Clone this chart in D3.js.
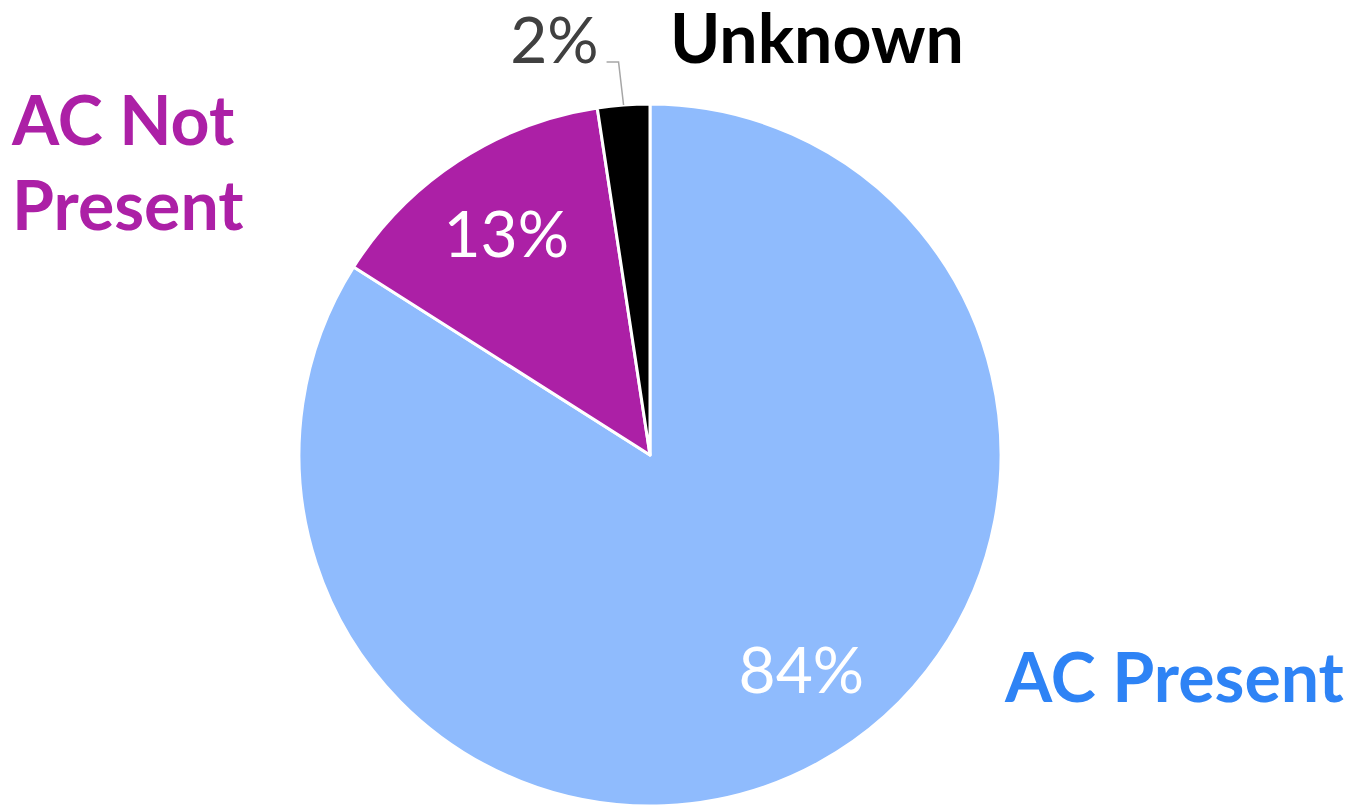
<!DOCTYPE html>
<meta charset="utf-8">
<style>
body { margin: 0; background: #fff; }
text { font-family: Lato, "Open Sans", sans-serif; }
.cat { font-weight: bold; }
</style>
<svg width="1349" height="805"></svg>
<script src="https://d3js.org/d3.v7.min.js"></script>
<script>
// data, clockwise from 12 o'clock
var categories = ["AC Present", "AC Not Present", "Unknown"];
var values = [84.0, 13.6, 2.4];
var pctLabels = ["84%", "13%", "2%"];

var colors = ["#8fbbfd", "#ac20a6", "#000000"];
var catColors = ["#2e83f5", "#ac20a6", "#000000"];
var pctColors = ["#ffffff", "#ffffff", "#404040"];

var svg = d3.select("svg"),
    cx = 650, cy = 455, R = 351;

var pie = d3.pie().sort(null).value(function(d) { return d; });
var arcs = pie(values);
var arc = d3.arc().innerRadius(0).outerRadius(R);

var g = svg.append("g").attr("transform", "translate(" + cx + "," + cy + ")");

g.selectAll(".slice")
    .data(arcs)
    .enter().append("path")
    .attr("class", "slice")
    .attr("d", arc)
    .attr("fill", function(d, i) { return colors[i]; })
    .attr("stroke", "#fff")
    .attr("stroke-width", 3)
    .attr("stroke-linejoin", "round");

function polar(r, a) { return [Math.sin(a) * r, -Math.cos(a) * r]; }

// inside labels for the two big slices
var inPos = [{r: 0.75, da: -0.11}, {r: 0.75, da: 0}];
inPos.forEach(function(o, i) {
  var d = arcs[i];
  var p = polar(R * o.r, (d.startAngle + d.endAngle) / 2 + o.da);
  g.append("text")
    .attr("x", p[0])
    .attr("y", p[1])
    .attr("dy", "0.35em")
    .attr("text-anchor", "middle")
    .attr("fill", pctColors[i])
    .style("font-size", "64px")
    .text(pctLabels[i]);
});

// leader line + outside label for the small slice
var u = arcs[2];
var p0 = polar(R, (u.startAngle + u.endAngle) / 2);
var elbowY = -393;
var p1 = [p0[0] - 5, elbowY], p2 = [p0[0] - 17, elbowY];
g.append("polyline")
  .attr("points", [p0, p1, p2].map(function(p) { return p.join(","); }).join(" "))
  .attr("fill", "none")
  .attr("stroke", "#a6a6a6")
  .attr("stroke-width", 1.5);
g.append("text")
  .attr("x", p2[0] - 8)
  .attr("y", elbowY + 1)
  .attr("text-anchor", "end")
  .attr("fill", pctColors[2])
  .style("font-size", "64px")
  .text(pctLabels[2]);

// category labels
var catPos = [
  {x: 1005, y: 702, lines: ["AC Present"]},
  {x: 12, y: 145, lines: ["AC Not", "Present"]},
  {x: 670, y: 63, lines: ["Unknown"]}
];
categories.forEach(function(c, i) {
  var t = svg.append("text")
    .attr("class", "cat")
    .attr("x", catPos[i].x)
    .attr("y", catPos[i].y)
    .attr("fill", catColors[i])
    .style("font-size", "68px");
  catPos[i].lines.forEach(function(l, j) {
    t.append("tspan").attr("x", catPos[i].x).attr("dy", j ? 85 : 0).text(l);
  });
});
</script>
